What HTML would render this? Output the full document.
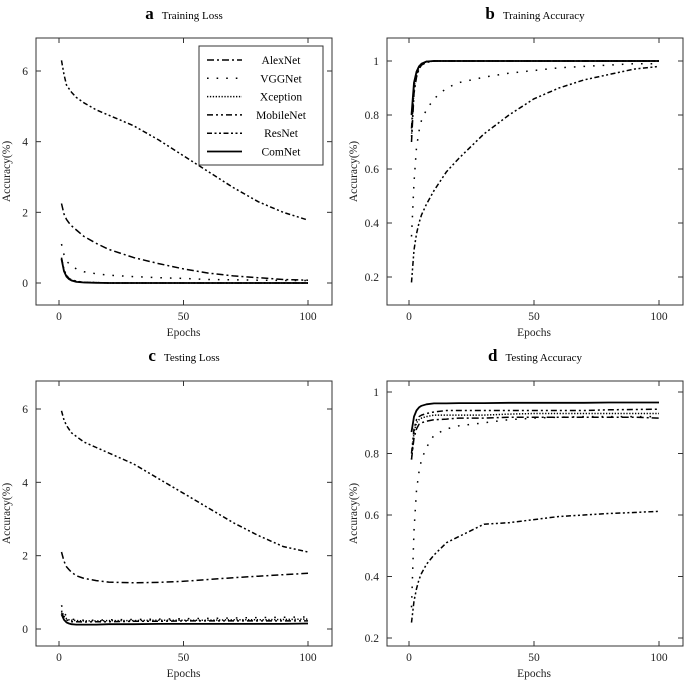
<!DOCTYPE html>
<html><head><meta charset="utf-8">
<style>
body{margin:0;background:#fff;}
svg{display:block;font-family:"Liberation Serif",serif;}
</style></head>
<body>
<svg id="fig" width="685" height="681" viewBox="0 0 685 681" xmlns="http://www.w3.org/2000/svg"></svg>
<script>
const epochs=[1,2,3,4,5,7,10,15,20,30,40,50,60,70,80,90,100];
// a Training loss
const trLossAlex=[2.25,1.95,1.8,1.7,1.62,1.5,1.32,1.12,0.95,0.72,0.55,0.4,0.28,0.2,0.15,0.1,0.08];
const trLossVGG=[1.1,0.8,0.62,0.55,0.48,0.4,0.32,0.26,0.22,0.18,0.15,0.13,0.1,0.09,0.08,0.07,0.07];
const trLossXcep=[0.7,0.35,0.2,0.12,0.08,0.04,0.02,0.01,0,0,0,0,0,0,0,0,0];
const trLossMobile=[0.72,0.37,0.22,0.13,0.09,0.05,0.02,0.01,0,0,0,0,0,0,0,0,0];
const trLossRes=[6.3,5.9,5.6,5.5,5.4,5.25,5.1,4.9,4.75,4.45,4.05,3.6,3.15,2.7,2.3,2.0,1.78];
const trLossCom=[0.68,0.33,0.18,0.11,0.07,0.03,0.015,0.005,0,0,0,0,0,0,0,0,0];
// b Training accuracy
const trAccAlex=[0.7,0.88,0.94,0.97,0.985,0.995,1,1,1,1,1,1,1,1,1,1,1];
const trAccVGG=[0.35,0.55,0.68,0.74,0.78,0.82,0.86,0.9,0.92,0.94,0.955,0.965,0.975,0.98,0.985,0.99,0.99];
const trAccXcep=[0.72,0.9,0.95,0.975,0.99,0.997,1,1,1,1,1,1,1,1,1,1,1];
const trAccMobile=[0.75,0.91,0.96,0.98,0.99,0.998,1,1,1,1,1,1,1,1,1,1,1];
const trAccRes=[0.18,0.3,0.36,0.4,0.43,0.47,0.52,0.59,0.64,0.73,0.8,0.86,0.9,0.93,0.95,0.97,0.98];
const trAccCom=[0.8,0.92,0.96,0.98,0.99,0.998,1,1,1,1,1,1,1,1,1,1,1];
// c Testing loss
const teLossAlex=[2.1,1.85,1.7,1.62,1.55,1.45,1.38,1.32,1.28,1.26,1.27,1.3,1.35,1.4,1.44,1.48,1.52];
const teLossVGG=[0.65,0.45,0.35,0.3,0.27,0.25,0.24,0.24,0.25,0.26,0.27,0.28,0.29,0.3,0.31,0.32,0.33];
const teLossXcep=[0.5,0.35,0.28,0.25,0.24,0.23,0.22,0.22,0.23,0.23,0.24,0.24,0.24,0.25,0.25,0.26,0.27];
const teLossMobile=[0.45,0.3,0.25,0.22,0.2,0.2,0.19,0.2,0.2,0.21,0.21,0.22,0.22,0.22,0.22,0.22,0.22];
const teLossRes=[5.95,5.7,5.55,5.45,5.35,5.25,5.1,4.95,4.8,4.5,4.1,3.7,3.3,2.9,2.55,2.25,2.1];
const teLossCom=[0.4,0.25,0.18,0.15,0.13,0.12,0.12,0.12,0.13,0.13,0.14,0.14,0.14,0.14,0.14,0.14,0.15];
// d Testing accuracy
const teAccAlex=[0.78,0.85,0.88,0.895,0.9,0.905,0.91,0.912,0.915,0.915,0.918,0.918,0.918,0.918,0.918,0.918,0.915];
const teAccVGG=[0.3,0.55,0.68,0.74,0.78,0.82,0.86,0.88,0.89,0.9,0.91,0.915,0.918,0.92,0.92,0.92,0.92];
const teAccXcep=[0.78,0.87,0.9,0.91,0.915,0.92,0.925,0.925,0.925,0.925,0.928,0.93,0.93,0.93,0.93,0.93,0.93];
const teAccMobile=[0.8,0.88,0.91,0.92,0.925,0.93,0.935,0.94,0.94,0.94,0.94,0.94,0.94,0.94,0.942,0.943,0.944];
const teAccRes=[0.25,0.32,0.36,0.39,0.41,0.44,0.47,0.51,0.53,0.57,0.575,0.585,0.595,0.6,0.605,0.608,0.612];
const teAccCom=[0.87,0.92,0.94,0.95,0.955,0.96,0.963,0.963,0.964,0.964,0.965,0.965,0.965,0.965,0.966,0.966,0.966];
const xTicks=[0,50,100];
const lossTicks=[0,2,4,6];
const accTicks=[0.2,0.4,0.6,0.8,1];
const accTickLabels=["0.2","0.4","0.6","0.8","1"];
const seriesNames=["AlexNet","VGGNet","Xception","MobileNet","ResNet","ComNet"];

const styles={AlexNet:"7,3,2,3",VGGNet:"1.6,8",Xception:"1.3,1.6",MobileNet:"6,3,2,3,2,3",ResNet:"5,2.5,2,2.5,2,2.5",ComNet:""};
const NS="http://www.w3.org/2000/svg";
const svg=document.getElementById('fig');
function mk(tag,attrs,parent){const e=document.createElementNS(NS,tag);for(const k in attrs)e.setAttribute(k,attrs[k]);(parent||svg).appendChild(e);return e;}

const panels=[
 {id:"a",title:"Training Loss",box:[36,38,332,305],x0:59,x1:308,yv0:0,yp0:283,yv1:6,yp1:71,ticks:lossTicks,labels:lossTicks.map(String),
  data:[trLossAlex,trLossVGG,trLossXcep,trLossMobile,trLossRes,trLossCom],legend:true,ty:14},
 {id:"b",title:"Training Accuracy",box:[387,38,683,305],x0:409,x1:659,yv0:0.2,yp0:277,yv1:1,yp1:61,ticks:accTicks,labels:accTickLabels,
  data:[trAccAlex,trAccVGG,trAccXcep,trAccMobile,trAccRes,trAccCom],ty:14},
 {id:"c",title:"Testing Loss",box:[36,381,332,646],x0:59,x1:308,yv0:0,yp0:629,yv1:6,yp1:409,ticks:lossTicks,labels:lossTicks.map(String),
  data:[teLossAlex,teLossVGG,teLossXcep,teLossMobile,teLossRes,teLossCom],ty:356},
 {id:"d",title:"Testing Accuracy",box:[387,381,683,646],x0:409,x1:659,yv0:0.2,yp0:638,yv1:1,yp1:392,ticks:accTicks,labels:accTickLabels,
  data:[teAccAlex,teAccVGG,teAccXcep,teAccMobile,teAccRes,teAccCom],ty:356}
];

panels.forEach(p=>{
 const g=mk('g',{});
 
 
 const xs=v=>p.x0+(v-0)/(100-0)*(p.x1-p.x0);
 const ys=v=>p.yp0+(v-p.yv0)/(p.yv1-p.yv0)*(p.yp1-p.yp0);
 const [l,t,r,b]=p.box; const cx=(l+r)/2;
 const tt=mk('text',{x:cx,y:p.ty+5,'text-anchor':'middle','font-size':'11'},g);
 
 
 const ts=mk('tspan',{'font-weight':'bold','font-size':'17'},tt);ts.textContent=p.id;
 const ts2=mk('tspan',{dx:'8'},tt);ts2.textContent=p.title;
 const frame=mk('rect',{x:l,y:t,width:r-l,height:b-t,fill:'none',stroke:'#333','stroke-width':'1'},g);
 
 
 xTicks.forEach(v=>{const x=xs(v);
  mk('line',{x1:x,y1:t,x2:x,y2:t+5,stroke:'#333'},g);mk('line',{x1:x,y1:b,x2:x,y2:b-5,stroke:'#333'},g);
  const tx=mk('text',{x:x,y:b+15,'text-anchor':'middle','font-size':'11.5',fill:'#222'},g);tx.textContent=v;
  
  });
 p.ticks.forEach((v,i)=>{const y=ys(v);
  mk('line',{x1:l,y1:y,x2:l+5,y2:y,stroke:'#333'},g);mk('line',{x1:r,y1:y,x2:r-5,y2:y,stroke:'#333'},g);
  const tx=mk('text',{x:l-8,y:y+4,'text-anchor':'end','font-size':'11.5',fill:'#222'},g);tx.textContent=p.labels[i];
  
  });
 const xl=mk('text',{x:(p.x0+p.x1)/2,y:b+31,'text-anchor':'middle','font-size':'11.5',fill:'#222'},g);xl.textContent='Epochs';
 
 
 const ym=(t+b)/2;
 const yx=l-26-(p.id==='b'||p.id==='d'?4:0);
 const yl=mk('text',{x:yx,y:ym,'text-anchor':'middle','font-size':'11.5',fill:'#222',transform:`rotate(-90 ${yx} ${ym})`},g);yl.textContent='Accuracy(%)';
 
 
 p.data.forEach((arr,si)=>{
  const d=arr.map((v,i)=>(i?'L':'M')+xs(epochs[i]).toFixed(1)+','+ys(v).toFixed(1)).join('');
  const nm=seriesNames[si];
  const attrs={d:d,fill:'none',stroke:'#000','stroke-width':nm==='ComNet'?'1.8':'1.5','stroke-linecap':'butt','stroke-linejoin':'round'};
  if(styles[nm])attrs['stroke-dasharray']=styles[nm];
  const pth=mk('path',attrs,g);
  
  
 });
 if(p.legend){
  const lg=mk('g',{},g);
  
  
  mk('rect',{x:199,y:46,width:124,height:119,fill:'#fff',stroke:'#333'},lg);
  seriesNames.forEach((nm,i)=>{const y=60+i*18.3;
   const a={x1:207,y1:y,x2:242,y2:y,stroke:'#000','stroke-width':nm==='ComNet'?'1.8':'1.5'};
   if(styles[nm])a['stroke-dasharray']=styles[nm];
   mk('line',a,lg);
   const tx=mk('text',{x:281,y:y+4,'text-anchor':'middle','font-size':'11.5'},lg);tx.textContent=nm;
   
   });
 }
});
</script>
</body></html>
